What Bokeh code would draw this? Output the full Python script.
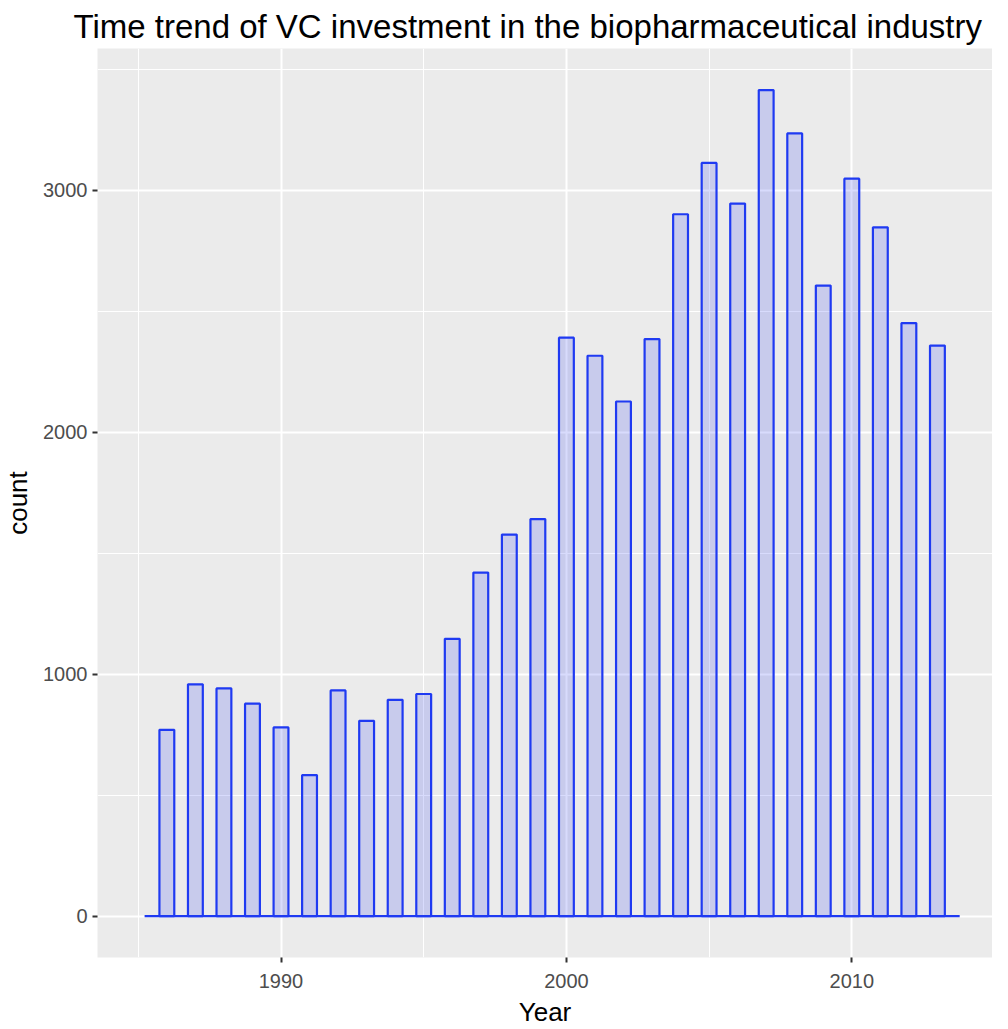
from bokeh.plotting import figure
from bokeh.models import FixedTicker, Range1d, ColumnDataSource
from bokeh.embed import file_html
from bokeh.resources import INLINE

years = [1986, 1987, 1988, 1989, 1990, 1991, 1992, 1993, 1994, 1995,
         1996, 1997, 1998, 1999, 2000, 2001, 2002, 2003, 2004, 2005,
         2006, 2007, 2008, 2009, 2010, 2011, 2012, 2013]
counts = [770, 958, 941, 878, 780, 583, 933, 807, 894, 918,
          1146, 1420, 1577, 1641, 2391, 2316, 2127, 2385, 2901, 3113,
          2945, 3414, 3235, 2606, 3048, 2847, 2451, 2358]
x_ticks = [1990, 2000, 2010]
x_minor = [1985, 1995, 2005, 2015]
y_ticks = [0, 1000, 2000, 3000]
y_minor = [500, 1500, 2500, 3500]

bw = 0.52
src = ColumnDataSource(dict(
    left=[y - bw / 2 for y in years],
    right=[y + bw / 2 for y in years],
    top=counts,
    bottom=[0] * len(years),
))

FONT = "Liberation Sans"

p = figure(width=992, height=1029, output_backend="svg", toolbar_location=None,
           x_range=Range1d(1983.57, 2014.93), y_range=Range1d(-171, 3586),
           min_border_left=91, min_border_right=0, min_border_top=48,
           min_border_bottom=66)

p.title.text = "Time trend of VC investment in the biopharmaceutical industry"
p.title.align = "left"
p.title.offset = -24
p.title.text_font = FONT
p.title.text_font_size = "33px"
p.title.text_font_style = "normal"
p.title.text_color = "black"
p.title.standoff = 8

p.background_fill_color = "#EBEBEB"
p.border_fill_color = "white"
p.outline_line_color = None

p.xaxis.ticker = FixedTicker(ticks=x_ticks, minor_ticks=x_minor)
p.yaxis.ticker = FixedTicker(ticks=y_ticks, minor_ticks=y_minor)

for g in (p.xgrid, p.ygrid):
    g.grid_line_color = "white"
    g.grid_line_width = 2
    g.minor_grid_line_color = "white"
    g.minor_grid_line_width = 1

for ax in (p.xaxis, p.yaxis):
    ax.axis_line_color = None
    ax.major_tick_line_color = "#333333"
    ax.major_tick_line_width = 2
    ax.major_tick_out = 5
    ax.major_tick_in = 0
    ax.minor_tick_line_color = None
    ax.major_label_text_font = FONT
    ax.major_label_text_font_size = "20px"
    ax.major_label_text_color = "#4D4D4D"
    ax.axis_label_text_font = FONT
    ax.axis_label_text_font_size = "26px"
    ax.axis_label_text_font_style = "normal"
    ax.axis_label_text_color = "black"

p.xaxis.axis_label = "Year"
p.yaxis.axis_label = "count"
p.xaxis.major_label_standoff = 11
p.yaxis.major_label_standoff = 5
p.xaxis.axis_label_standoff = 6
p.yaxis.axis_label_standoff = 7

# baseline of the histogram (empty bins drawn as flat outline)
p.segment(x0=[years[0] - 1.5 * bw], x1=[years[-1] + 1.5 * bw], y0=[0], y1=[0],
          line_color="#1F3AF2", line_width=2.2)

p.quad(left="left", right="right", top="top", bottom="bottom", source=src,
       fill_color="#3A4BF0", fill_alpha=0.2, line_color="#1F3AF2", line_width=2.2)

open("out.html", "w").write(file_html(p, INLINE))
